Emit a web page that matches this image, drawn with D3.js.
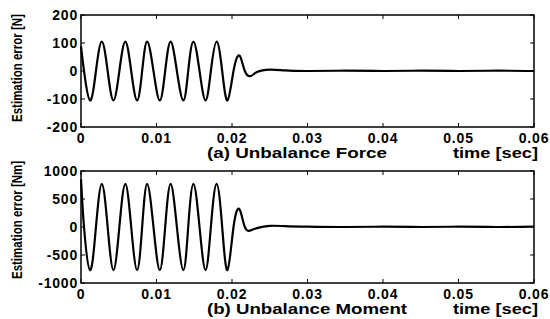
<!DOCTYPE html>
<html>
<head>
<meta charset="utf-8">
<script src="https://cdn.jsdelivr.net/npm/d3@7"></script>
<style>
  html, body { margin: 0; padding: 0; background: #fff; }
  svg { display: block; }
  text { font-family: "Liberation Sans", Arial, sans-serif; font-weight: bold; fill: #000; }
</style>
</head>
<body>
<svg id="chart" width="550" height="319"></svg>
<script>
// time knots (sec) — peaks, troughs and zero crossings
var timeKnots = [0, 0.0004, 0.0012, 0.00198, 0.00276, 0.00353, 0.0043, 0.00508, 0.00587, 0.00665,
  0.00743, 0.0081, 0.00876, 0.0096, 0.01044, 0.01115, 0.01187, 0.0127, 0.01356, 0.0142,
  0.01489, 0.0157, 0.0165, 0.0172, 0.01796, 0.0187, 0.0194, 0.0202, 0.021, 0.0217,
  0.0225, 0.0233, 0.025, 0.027, 0.03, 0.035, 0.04, 0.045, 0.05, 0.055, 0.06];
// (a) unbalance force estimation error [N]
var forceErr = [88, 0, -105, 0, 105, 0, -105, 0, 105, 0,
  -105, 0, 105, 0, -105, 0, 105, 0, -105, 0,
  105, 0, -105, 0, 105, 0, -105, 0, 55, 0,
  -18, -4, 5, 2, 0, 1, 0, 1, 0, 1, 0];
// (b) unbalance moment estimation error [Nm]
var momentErr = [850, 0, -770, 0, 770, 0, -770, 0, 770, 0,
  -770, 0, 770, 0, -770, 0, 770, 0, -770, 0,
  770, 0, -770, 0, 770, 0, -770, 0, 316, 0,
  -60, -20, 20, 15, 5, 0, 5, 0, 5, 0, 5];

var xTicks = [0, 0.01, 0.02, 0.03, 0.04, 0.05, 0.06];
var forceTicks = [200, 100, 0, -100, -200];
var momentTicks = [1000, 500, 0, -500, -1000];

var panels = [
  { top: 15, bottom: 127, values: forceErr, ticks: forceTicks, domain: [-200, 200],
    ylabel: "Estimation error [N]", labelY: 68, caption: "(a) Unbalance Force", capLen: 180 },
  { top: 171, bottom: 283, values: momentErr, ticks: momentTicks, domain: [-1000, 1000],
    ylabel: "Estimation error [Nm]", labelY: 220, caption: "(b) Unbalance Moment", capLen: 200 }
];

var svg = d3.select("#chart");
var left = 81, right = 534;
var x = d3.scaleLinear().domain([0, 0.06]).range([left, right]);

panels.forEach(function (p) {
  var y = d3.scaleLinear().domain(p.domain).range([p.bottom, p.top]);
  var g = svg.append("g");

  // the trace
  var line = d3.line()
    .x(function (d, i) { return x(timeKnots[i]); })
    .y(function (d) { return y(d); })
    .curve(d3.curveNatural);
  g.append("path").datum(p.values)
    .attr("d", line)
    .attr("fill", "none").attr("stroke", "#000").attr("stroke-width", 2.2);

  // inward ticks on all four sides
  var tl = 4;
  xTicks.forEach(function (t) {
    g.append("line").attr("x1", x(t)).attr("x2", x(t)).attr("y1", p.bottom).attr("y2", p.bottom - tl)
      .attr("stroke", "#000").attr("stroke-width", 1);
    g.append("line").attr("x1", x(t)).attr("x2", x(t)).attr("y1", p.top).attr("y2", p.top + tl)
      .attr("stroke", "#000").attr("stroke-width", 1);
    g.append("text").attr("x", x(t)).attr("y", p.bottom + 16)
      .attr("text-anchor", "middle").attr("font-size", 14).style("letter-spacing", "0.8px")
      .text(t === 0 ? "0" : d3.format(".2f")(t));
  });
  p.ticks.forEach(function (v) {
    g.append("line").attr("x1", left).attr("x2", left + tl).attr("y1", y(v)).attr("y2", y(v))
      .attr("stroke", "#000").attr("stroke-width", 1);
    g.append("line").attr("x1", right).attr("x2", right - tl).attr("y1", y(v)).attr("y2", y(v))
      .attr("stroke", "#000").attr("stroke-width", 1);
    g.append("text").attr("x", left - 3).attr("y", y(v) + 5)
      .attr("text-anchor", "end").attr("font-size", 14).style("letter-spacing", "0.8px")
      .text(v);
  });

  // box
  g.append("rect").attr("x", left).attr("y", p.top)
    .attr("width", right - left).attr("height", p.bottom - p.top)
    .attr("fill", "none").attr("stroke", "#000").attr("stroke-width", 1.5);

  // y label (condensed: narrow font size, taller glyphs via scale)
  g.append("text")
    .attr("transform", "translate(22," + p.labelY + ") rotate(-90) scale(1,1.2)")
    .attr("text-anchor", "middle").attr("font-size", 11.5)
    .text(p.ylabel);

  // captions
  g.append("text").attr("x", 207).attr("y", p.bottom + 31)
    .attr("font-size", 14).attr("textLength", p.capLen).attr("lengthAdjust", "spacingAndGlyphs")
    .text(p.caption);
  g.append("text").attr("x", 453).attr("y", p.bottom + 31)
    .attr("font-size", 14).attr("textLength", 85).attr("lengthAdjust", "spacingAndGlyphs")
    .text("time [sec]");
});
</script>
</body>
</html>
